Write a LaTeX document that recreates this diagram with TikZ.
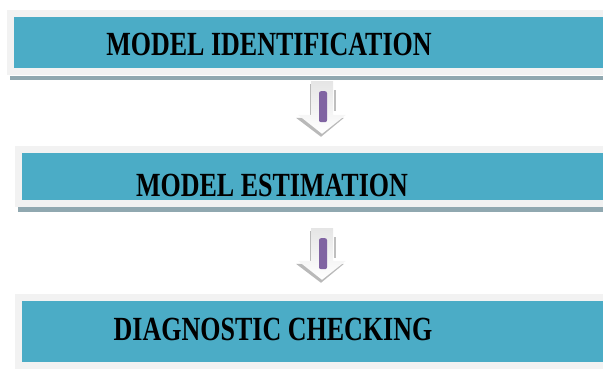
\documentclass[tikz,border=0pt]{standalone}
\usepackage{fontspec}
\usepackage{graphicx}
\setmainfont{Liberation Serif}
\usetikzlibrary{calc}
\definecolor{stageblue}{HTML}{4BACC6}
\definecolor{framegray}{HTML}{F2F2F2}
\definecolor{shadowgray}{HTML}{90A8B0}
\definecolor{barpurple}{HTML}{8064A2}
\tikzset{
  stage/.style={fill=stageblue, inner sep=0pt, preaction={draw=framegray, line width=14pt}},
  stagetext/.style={inner sep=0pt, font=\fontsize{26}{30}\selectfont\bfseries},
  stageshadow/.style={fill=shadowgray},
  blockarrow/.style={top color=gray!20, bottom color=white, draw=none},
  arrowshadow/.style={fill=gray!55}
}
\begin{document}
\begin{tikzpicture}[x=1pt,y=-1pt]
\clip (0,0) rectangle (603,368);
% the three stages
\node[stage, minimum width=616pt, minimum height=51pt] (ident) at (322,42.5) {};
\node[stage, minimum width=600pt, minimum height=47pt] (estim) at (322,176.5) {};
\node[stage, minimum width=600pt, minimum height=61pt] (diag) at (322,331.5) {};
\fill[stageshadow] ($(ident.south west)+(-4,8)$) rectangle ($(ident.south east)+(10,12)$);
\fill[stageshadow] ($(estim.south west)+(-4,7)$) rectangle ($(estim.south east)+(10,12)$);
\node[stagetext] (identtxt) at ($(ident.center)+(-53,2)$) {\scalebox{1}[1.3]{MODEL IDENTIFICATION}};
\node[stagetext] (estimtxt) at ($(estim.center)+(-50,8.5)$) {\scalebox{1}[1.3]{MODEL ESTIMATION}};
\node[stagetext] (diagtxt) at ($(diag.center)+(-49,-2)$) {\scalebox{1}[1.3]{DIAGNOSTIC CHECKING}};
% block arrows between the stages
\foreach \from/\to/\gapa/\gapb in {ident/estim/13/19, estim/diag/28/21}{
  \coordinate (t) at ($(\from.south)+(0,\gapa)$);
  \coordinate (b) at ($(\to.north)+(0,-\gapb)$);
  \fill[arrowshadow] ($(t)+(-12,3)$) -- ($(b)+(-12,-16)$) -- ($(b)+(-26,-16)$) -- ($(b)+(-1,3)$) -- ($(b)+(22,-16)$) -- ($(b)+(10,-16)$) -- ($(t)+(10,3)$) -- cycle;
  \shade[blockarrow] ($(t)+(-11,0)$) -- ($(b)+(-11,-19)$) -- ($(b)+(-24,-19)$) -- (b) -- ($(b)+(24,-19)$) -- ($(b)+(11,-19)$) -- ($(t)+(11,0)$) -- cycle;
  \draw[gray!50, line width=1.2pt] ($(t)+(13,9)$) -- ($(t)+(13,30)$);
  \fill[barpurple, rounded corners=2pt] ($(t)+(-3,10)$) rectangle ($(t)+(5,41)$);
}
\end{tikzpicture}
\end{document}
